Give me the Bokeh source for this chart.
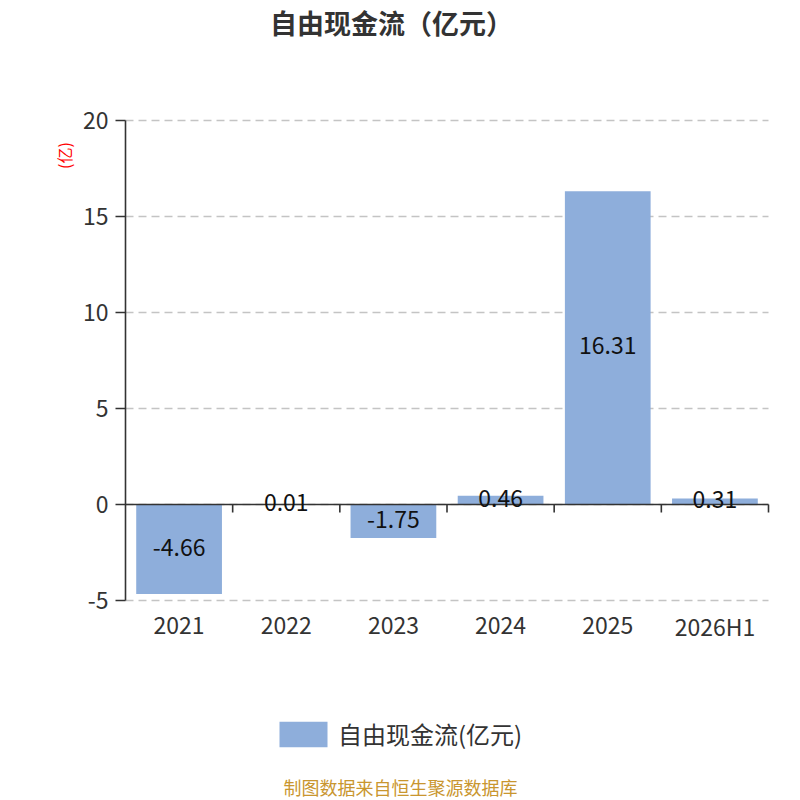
import math
from bokeh.plotting import figure
from bokeh.models import ColumnDataSource, Label, Legend, LegendItem, Range1d
from bokeh.core.properties import value
from bokeh.embed import file_html
from bokeh.resources import INLINE

# ---- data ----
categories = ["2021", "2022", "2023", "2024", "2025", "2026H1"]
values = [-4.66, 0.01, -1.75, 0.46, 16.31, 0.31]
value_labels = ["-4.66", "0.01", "-1.75", "0.46", "16.31", "0.31"]
y_ticks = [-5, 0, 5, 10, 15, 20]
y_tick_labels = ["-5", "0", "5", "10", "15", "20"]
series_name = "自由现金流(亿元)"
title_text = "自由现金流（亿元）"
unit_text = "(亿)"
source_text = "制图数据来自恒生聚源数据库"

# ---- layout (pixels) ----
W, H = 800, 800
L, R, T, B = 125, 768, 120, 600
Y_MIN, Y_MAX = y_ticks[0], y_ticks[-1]
N = len(categories)

FONT = "Noto Sans CJK SC"
BAR = "#8eaedb"
AX = "#333333"

ppx = (R - L) / N
ppy = (B - T) / (Y_MAX - Y_MIN)
x_range = Range1d(-L / ppx, N + (W - R) / ppx)
y_range = Range1d(Y_MIN - (H - B) / ppy, Y_MAX + T / ppy)

p = figure(width=W, height=H, x_range=x_range, y_range=y_range, output_backend="svg",
           toolbar_location=None, min_border=0, min_border_left=0, min_border_right=0,
           min_border_top=0, min_border_bottom=0)
p.axis.visible = False
p.grid.visible = False
p.outline_line_color = None
p.background_fill_color = "white"
p.border_fill_color = "white"

xc = [i + 0.5 for i in range(N)]
src = ColumnDataSource(dict(x=xc, cat=categories, val=values,
                            mid=[v / 2 for v in values], lab=value_labels))

# grid lines
p.segment(x0=[0] * len(y_ticks), x1=[N] * len(y_ticks), y0=y_ticks, y1=y_ticks,
          line_color="#c4c4c4", line_width=1.4, line_dash="8 5")

# bars
r = p.vbar(x="x", top="val", bottom=0, width=0.8, source=src, fill_color=BAR, line_color=None)

# y axis
p.segment(x0=[0], x1=[0], y0=[Y_MIN], y1=[Y_MAX], line_color=AX, line_width=1.6)
p.segment(x0=[0] * len(y_ticks), x1=[-10 / ppx] * len(y_ticks), y0=y_ticks, y1=y_ticks,
          line_color=AX, line_width=1.6)
p.text(x=[0] * len(y_ticks), y=y_ticks, text=y_tick_labels, x_offset=-17,
       text_align="right", text_baseline="middle", text_font=value(FONT),
       text_font_size="23px", text_color=AX)

# zero line with category boundary ticks
bx = [i for i in range(1, N + 1)]
p.segment(x0=[0], x1=[N], y0=[0], y1=[0], line_color=AX, line_width=1.6)
p.segment(x0=bx, x1=bx, y0=[0] * N, y1=[-8 / ppy] * N, line_color=AX, line_width=1.6)

# category labels
p.text(x="x", y=Y_MIN, text="cat", source=src, y_offset=25, text_align="center",
       text_baseline="middle", text_font=value(FONT), text_font_size="23px", text_color=AX)

# value labels
p.text(x="x", y="mid", text="lab", source=src, y_offset=-2, text_align="center",
       text_baseline="middle", text_font=value(FONT), text_font_size="23px",
       text_color="#111111")

# texts
p.add_layout(Label(x=391, y=H - 22, x_units="screen", y_units="screen", text=title_text,
                   text_align="center", text_baseline="middle", text_font=FONT,
                   text_font_size="27px", text_font_style="bold", text_color=AX))
p.add_layout(Label(x=63, y=H - 155, x_units="screen", y_units="screen", text=unit_text,
                   angle=math.pi / 2, text_align="center", text_baseline="middle",
                   text_font=FONT, text_font_size="16px", text_color="#ff0000"))
p.add_layout(Label(x=400, y=H - 786, x_units="screen", y_units="screen", text=source_text,
                   text_align="center", text_baseline="middle", text_font=FONT,
                   text_font_size="18px", text_color="#c9962f"))

# legend (area legend glyphs are inset by 10% on each side)
legend = Legend(items=[LegendItem(label=series_name, renderers=[r])], location=(273, H - 751),
                orientation="horizontal", padding=0, margin=0, border_line_color=None,
                background_fill_alpha=0, glyph_width=60, glyph_height=32, label_standoff=5,
                label_text_font=FONT, label_text_font_size="24px", label_text_color=AX,
                label_height=32, label_text_baseline="middle")
p.add_layout(legend, "center")

open("out.html", "w").write(file_html(p, INLINE))
